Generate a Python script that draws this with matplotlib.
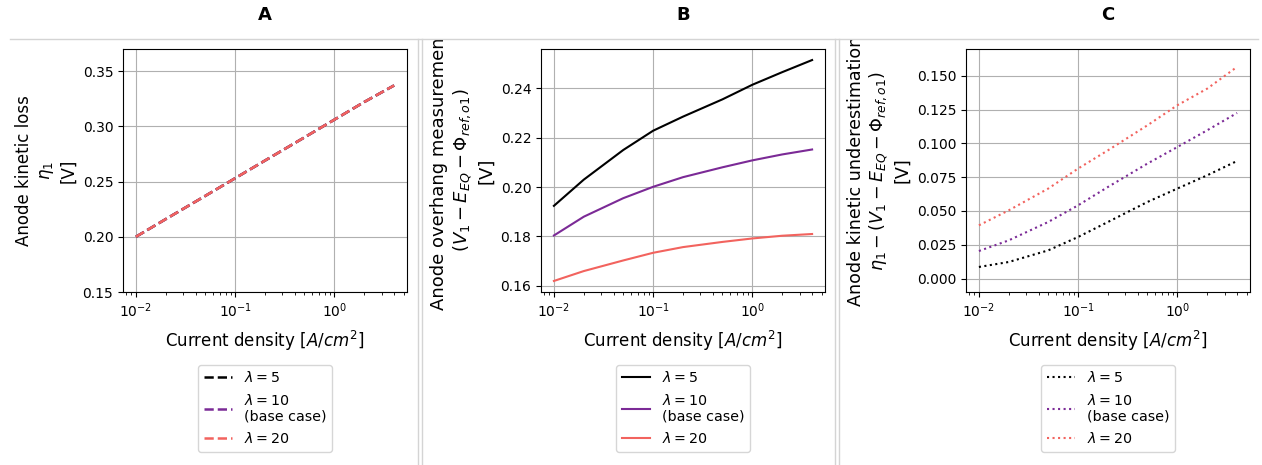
import matplotlib
matplotlib.use("Agg")
import matplotlib.pyplot as plt
from matplotlib.lines import Line2D
from matplotlib.transforms import Bbox, TransformedBbox

# ---------------- data ----------------
current_density = [0.01, 0.02, 0.05, 0.1, 0.2, 0.5, 1.0, 2.0, 4.0]
lambda_labels = ["$\\lambda = 5$", "$\\lambda = 10$\n(base case)", "$\\lambda = 20$"]
colors = ["#000000", "#7b2a96", "#f2635e"]

# Panel A: anode kinetic loss (identical for all lambda)
eta_l5 = [0.200, 0.216, 0.237, 0.253, 0.269, 0.290, 0.306, 0.322, 0.337]
eta_l10 = [0.200, 0.216, 0.237, 0.253, 0.269, 0.290, 0.306, 0.322, 0.337]
eta_l20 = [0.200, 0.216, 0.237, 0.253, 0.269, 0.290, 0.306, 0.322, 0.337]

# Panel B: overhang measurement
ovh_l5 = [0.1924, 0.2030, 0.2150, 0.2228, 0.2285, 0.2355, 0.2414, 0.2465, 0.2514]
ovh_l10 = [0.1804, 0.1880, 0.1955, 0.2001, 0.2040, 0.2080, 0.2108, 0.2132, 0.2152]
ovh_l20 = [0.1620, 0.1660, 0.1703, 0.1734, 0.1757, 0.1778, 0.1792, 0.1803, 0.1810]

# Panel C: kinetic underestimation
und_l5 = [0.0086, 0.0123, 0.0209, 0.0308, 0.0419, 0.0567, 0.0666, 0.0764, 0.0870]
und_l10 = [0.0204, 0.0283, 0.0419, 0.0542, 0.0678, 0.0851, 0.0973, 0.1097, 0.1225]
und_l20 = [0.0394, 0.0505, 0.0666, 0.0814, 0.0949, 0.1134, 0.1282, 0.1405, 0.1566]

panel_titles = ["A", "B", "C"]
xlabel = "Current density [$A/cm^2$]"
ylabels = [
    "Anode kinetic loss\n$\\eta_1$\n[V]",
    "Anode overhang measurement\n$(V_1 - E_{EQ} - \\Phi_{ref,o1})$\n[V]",
    "Anode kinetic underestimation\n$\\eta_1 - (V_1 - E_{EQ} - \\Phi_{ref,o1})$\n[V]",
]
ylabel_sizes = [12, 13, 12.6]
line_widths = [1.8, 1.5, 1.5]

# ---------------- figure ----------------
W, H = 1262, 465
fig = plt.figure(figsize=(W / 100, H / 100), dpi=100)

def px_axes(left, top, right, bottom):
    return fig.add_axes([left / W, 1 - bottom / H, (right - left) / W, (bottom - top) / H])

axA = px_axes(123, 49, 407, 292)
axB = px_axes(541, 49, 825, 292)
axC = px_axes(966, 49, 1250, 292)

series = [
    (axA, [eta_l5, eta_l10, eta_l20], "--"),
    (axB, [ovh_l5, ovh_l10, ovh_l20], "-"),
    (axC, [und_l5, und_l10, und_l20], ":"),
]

clip = TransformedBbox(Bbox([[0, 0], [1, 1 - 39 / H]]), fig.transFigure)

for i, (ax, ys, ls) in enumerate(series):
    for y, c, lab in zip(ys, colors, lambda_labels):
        ax.plot(current_density, y, ls, color=c, label=lab, lw=line_widths[i])
    ax.set_xscale("log")
    ax.grid(True, which="major", color="#b0b0b0", lw=0.8)
    ax.set_axisbelow(True)
    ax.set_xlabel(xlabel, fontsize=12, labelpad=6)
    ax.set_ylabel(ylabels[i], fontsize=ylabel_sizes[i])
    ax.yaxis.label.set_clip_box(clip)
    ax.yaxis.label.set_clip_on(True)
    ax.tick_params(labelsize=10)
    ax.legend(loc="upper center", bbox_to_anchor=(0.5, -0.27), fontsize=10.3,
              frameon=True, handlelength=2.0)
    cx = (ax.get_position().x0 + ax.get_position().x1) / 2
    fig.text(cx, 1 - 15 / H, panel_titles[i], ha="center", va="center",
             fontsize=13, fontweight="bold")

axA.set_ylim(0.15, 0.37)
axC.set_ylim(-0.0099, 0.1698)

# cell separator lines
sep_color = "#d4d4d4"
fig.add_artist(Line2D([10 / W, 1258 / W], [1 - 39 / H, 1 - 39 / H],
                      transform=fig.transFigure, color=sep_color, lw=1))
for xp in (418, 422, 835, 839):
    fig.add_artist(Line2D([xp / W, xp / W], [0, 1 - 39 / H],
                          transform=fig.transFigure, color=sep_color, lw=1))

fig.savefig("out.png", dpi=100)
